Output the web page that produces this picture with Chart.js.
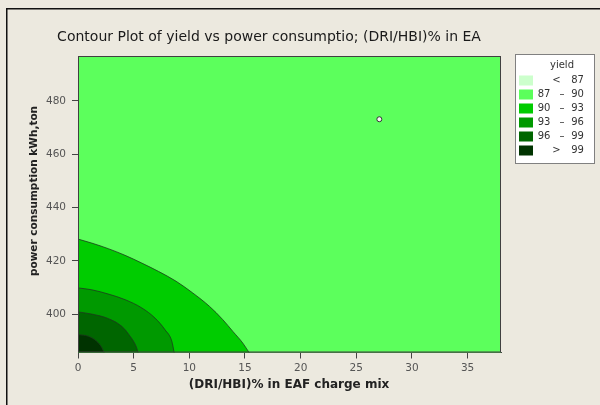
<!DOCTYPE html>
<html>
<head>
<meta charset="utf-8">
<script src="https://cdn.jsdelivr.net/npm/chart.js@4.4.1/dist/chart.umd.min.js"></script>
<style>
  html, body { margin: 0; padding: 0; background: #ECE9DF; }
  canvas { display: block; }
</style>
</head>
<body>
<canvas id="c" width="600" height="405"></canvas>
<script>
// Axis ticks
const xTicks = [0, 5, 10, 15, 20, 25, 30, 35];
const yTicks = [400, 420, 440, 460, 480];
const xRange = [0, 38.0];
const yRange = [385.7, 496.8];

// Contour lines of yield: [DRI/HBI %, kWh/ton]
const contour90 = [[0, 428.2], [1.23, 426.7], [2.72, 424.6], [4.23, 422.1], [5.73, 419.2], [7.22, 416.1],
                   [8.81, 412.4], [10.31, 408.0], [11.81, 403.0], [13.01, 398.0], [13.91, 393.6],
                   [14.81, 389.2], [15.41, 385.4]];
const contour93 = [[0, 409.9], [1.23, 409.2], [2.72, 407.6], [4.23, 405.5], [5.73, 402.4], [6.92, 398.6],
                   [7.82, 394.2], [8.43, 389.9], [8.65, 385.4]];
const contour96 = [[0, 400.9], [1.23, 400.1], [2.72, 398.4], [3.93, 395.5], [4.68, 391.8], [5.22, 388.0],
                   [5.42, 385.4]];
const contour99 = [[0, 392.4], [0.93, 391.8], [1.68, 389.9], [2.13, 387.6], [2.37, 385.4]];

// Design point
const designPoint = [[27.07, 473.1]];

// Legend classes for yield
const legendTitle = 'yield';
const legendLow = ['', '87', '90', '93', '96', ''];
const legendSep = ['<', '–', '–', '–', '–', '>'];
const legendHigh = ['87', '90', '93', '96', '99', '99'];

const titleText = 'Contour Plot of yield vs power consumptio; (DRI/HBI)% in EA';
const xTitle = '(DRI/HBI)% in EAF charge mix';
const yTitle = 'power consumption kWh,ton';

// Fill colours, lightest to darkest band
const bandColors = ['#CCFFCC', '#5CFF5C', '#00CC00', '#009900', '#006600', '#003300'];
const lineColor = '#1E3A1E';

const toXY = arr => arr.map(([x, y]) => ({ x, y }));

function contourSet(points, color) {
  return {
    data: toXY(points),
    showLine: true,
    fill: 'start',
    backgroundColor: color,
    borderColor: lineColor,
    borderWidth: 0.8,
    pointRadius: 0,
    cubicInterpolationMode: 'monotone'
  };
}

const decor = {
  id: 'decor',
  beforeDatasetsDraw(chart) {
    const { ctx, chartArea: a } = chart;
    ctx.save();
    ctx.fillStyle = bandColors[1];
    ctx.fillRect(a.left, a.top, a.right - a.left, a.bottom - a.top);
    ctx.restore();
  },
  afterDraw(chart) {
    const { ctx, chartArea: a } = chart;
    ctx.save();
    // plot frame
    ctx.strokeStyle = '#404040';
    ctx.lineWidth = 1;
    ctx.strokeRect(a.left + 0.5, a.top + 0.5, a.right - a.left - 1, a.bottom - a.top - 1);

    // outer frame lines
    ctx.fillStyle = '#111';
    ctx.fillRect(6, 8, 594, 1.5);
    ctx.fillRect(6, 8, 1.5, 397);

    // title
    ctx.fillStyle = '#1a1a1a';
    ctx.textAlign = 'center';
    ctx.textBaseline = 'middle';
    ctx.font = '14px "DejaVu Sans"';
    ctx.fillText(titleText, 269, 37);

    // axis titles
    ctx.fillStyle = '#222';
    ctx.font = 'bold 12px "DejaVu Sans"';
    ctx.fillText(xTitle, 289, 385);
    ctx.save();
    ctx.translate(34, 191);
    ctx.rotate(-Math.PI / 2);
    ctx.font = 'bold 10.5px "DejaVu Sans"';
    ctx.fillText(yTitle, 0, 0);
    ctx.restore();

    // legend box
    const bx = 515, by = 54, bw = 80, bh = 110;
    ctx.fillStyle = '#FFFFFF';
    ctx.fillRect(bx, by, bw, bh);
    ctx.strokeStyle = '#808080';
    ctx.strokeRect(bx + 0.5, by + 0.5, bw - 1, bh - 1);
    ctx.fillStyle = '#333';
    ctx.font = '10px "DejaVu Sans"';
    ctx.textAlign = 'center';
    ctx.fillText(legendTitle, 562, 65);
    for (let i = 0; i < legendHigh.length; i++) {
      const cy = 80.5 + i * 14;
      ctx.fillStyle = bandColors[i];
      ctx.fillRect(519, cy - 5, 14, 10);
      ctx.fillStyle = '#333';
      ctx.textAlign = 'center';
      if (legendLow[i]) {
        ctx.fillText(legendLow[i], 544, cy);
        ctx.fillText(legendSep[i], 562, cy);
      } else {
        ctx.fillText(legendSep[i], 556.5, cy);
      }
      ctx.fillText(legendHigh[i], 577.5, cy);
    }
    ctx.restore();
  }
};

new Chart(document.getElementById('c'), {
  type: 'scatter',
  data: {
    datasets: [
      {
        data: toXY(designPoint),
        pointRadius: 2.5,
        pointBackgroundColor: '#F4F4F4',
        pointBorderColor: '#333333',
        pointBorderWidth: 1,
        showLine: false
      },
      contourSet(contour99, bandColors[5]),
      contourSet(contour96, bandColors[4]),
      contourSet(contour93, bandColors[3]),
      contourSet(contour90, bandColors[2])
    ]
  },
  options: {
    responsive: false,
    devicePixelRatio: 1,
    animation: false,
    layout: { padding: { top: 56, right: 99, bottom: 0, left: 0 } },
    plugins: { legend: { display: false }, tooltip: { enabled: false }, title: { display: false } },
    scales: {
      x: {
        type: 'linear',
        min: xRange[0],
        max: xRange[1],
        afterBuildTicks: s => { s.ticks = xTicks.map(v => ({ value: v })); },
        afterFit: s => { s.height = 52.5; },
        ticks: { color: '#555', font: { family: 'DejaVu Sans', size: 10.5 }, padding: 3, maxRotation: 0, autoSkip: false },
        grid: { drawOnChartArea: false, drawTicks: true, tickLength: 6, color: '#444' },
        border: { display: true, color: '#404040' }
      },
      y: {
        type: 'linear',
        min: yRange[0],
        max: yRange[1],
        afterBuildTicks: s => { s.ticks = yTicks.map(v => ({ value: v })); },
        afterFit: s => { s.width = 78; },
        ticks: { color: '#555', font: { family: 'DejaVu Sans', size: 10.5 }, padding: 6, autoSkip: false },
        grid: { drawOnChartArea: false, drawTicks: true, tickLength: 6, color: '#444' },
        border: { display: true, color: '#404040' }
      }
    }
  },
  plugins: [decor]
});
</script>
</body>
</html>
